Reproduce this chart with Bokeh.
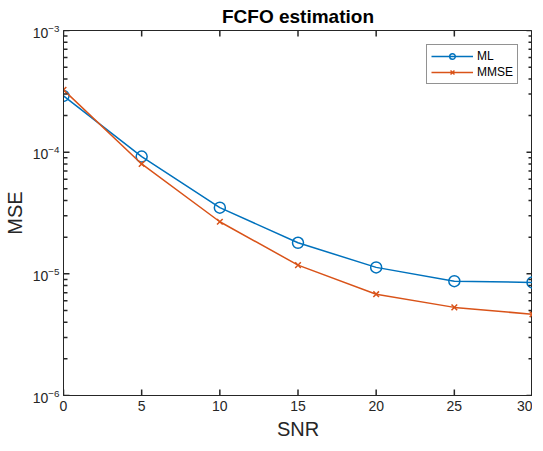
from bokeh.plotting import figure
from bokeh.models import Range1d, Legend, LegendItem, FixedTicker, Title
from bokeh.embed import file_html
from bokeh.resources import INLINE
import math

snr = [0, 5, 10, 15, 20, 25, 30]
mse_ml = [2.9e-4, 9.2e-5, 3.5e-5, 1.8e-5, 1.13e-5, 8.7e-6, 8.5e-6]
mse_mmse = [3.25e-4, 8.0e-5, 2.68e-5, 1.18e-5, 6.8e-6, 5.3e-6, 4.65e-6]
x_ticks = [0, 5, 10, 15, 20, 25, 30]
y_major = [1e-6, 1e-5, 1e-4, 1e-3]
y_minor = [2e-6, 3e-6, 4e-6, 5e-6, 6e-6, 7e-6, 8e-6, 9e-6,
           2e-5, 3e-5, 4e-5, 5e-5, 6e-5, 7e-5, 8e-5, 9e-5,
           2e-4, 3e-4, 4e-4, 5e-4, 6e-4, 7e-4, 8e-4, 9e-4]
x_lo, x_hi = 0, 30
y_lo, y_hi = 1e-6, 1e-3
title_text = "FCFO estimation"

FONT = "Liberation Sans"
AX = "#262626"

p = figure(y_axis_type="log",
           x_range=Range1d(x_lo, x_hi), y_range=Range1d(y_lo, y_hi),
           output_backend="svg", toolbar_location=None,
           frame_width=469, frame_height=365,
           min_border_left=58, min_border_right=0, min_border_top=0, min_border_bottom=46)
p.title = None
p.add_layout(Title(text=title_text, align="center", text_font=FONT, text_font_size="19px",
                   text_font_style="bold", text_color="black", standoff=7), "above")

p.grid.visible = False
p.outline_line_color = AX

ml_line = p.line(snr, mse_ml, line_color="#0072BD", line_width=1.5)
ml_mark = p.scatter(snr, mse_ml, marker="circle", size=11, fill_color=None,
                    line_color="#0072BD", line_width=1.5)
mm_line = p.line(snr, mse_mmse, line_color="#D95319", line_width=1.5)
mm_mark = p.scatter(snr, mse_mmse, marker="x", size=8,
                    line_color="#D95319", line_width=1.5)

# inward tick marks on all four sides, drawn as short screen-length rays from the frame edges
n_x = len(x_ticks)
p.ray(x_ticks, [y_lo] * n_x, length=6, length_units="screen", angle=math.pi / 2,
      line_color=AX, line_width=1.5)
p.ray(x_ticks, [y_hi] * n_x, length=6, length_units="screen", angle=-math.pi / 2,
      line_color=AX, line_width=1.5)
for xx, ang in ((x_lo, 0.0), (x_hi, math.pi)):
    p.ray([xx] * len(y_major), y_major, length=6, length_units="screen", angle=ang,
          line_color=AX, line_width=1.5)
    p.ray([xx] * len(y_minor), y_minor, length=4, length_units="screen", angle=ang,
          line_color=AX, line_width=1.5)

def style(ax):
    ax.axis_line_color = AX
    ax.major_tick_line_color = None
    ax.minor_tick_line_color = None
    ax.major_tick_in = 0
    ax.major_tick_out = 0
    ax.minor_tick_in = 0
    ax.minor_tick_out = 0
    ax.major_label_text_font = FONT
    ax.major_label_text_font_size = "14px"
    ax.major_label_text_color = AX
    ax.axis_label_text_font = FONT
    ax.axis_label_text_font_size = "20px"
    ax.axis_label_text_font_style = "normal"
    ax.axis_label_text_color = AX

xa = p.xaxis[0]
xa.ticker = FixedTicker(ticks=x_ticks)
xa.axis_label = "SNR"
style(xa)
xa.major_label_standoff = 5
xa.axis_label_standoff = 4

ya = p.yaxis[0]
ya.ticker = FixedTicker(ticks=y_major)
ya.axis_label = "MSE"
style(ya)
ya.major_label_standoff = 4
ya.axis_label_standoff = 4

legend = Legend(items=[LegendItem(label="ML", renderers=[ml_line, ml_mark]),
                       LegendItem(label="MMSE", renderers=[mm_line, mm_mark])],
                location="top_right", margin=14,
                label_text_font=FONT, label_text_font_size="12px", label_text_color="black",
                border_line_color=AX, border_line_width=1, background_fill_alpha=1,
                glyph_width=42, glyph_height=14, spacing=2, padding=4,
                label_standoff=4, label_height=14)
p.add_layout(legend, "center")

open("out.html", "w").write(file_html(p, INLINE))
